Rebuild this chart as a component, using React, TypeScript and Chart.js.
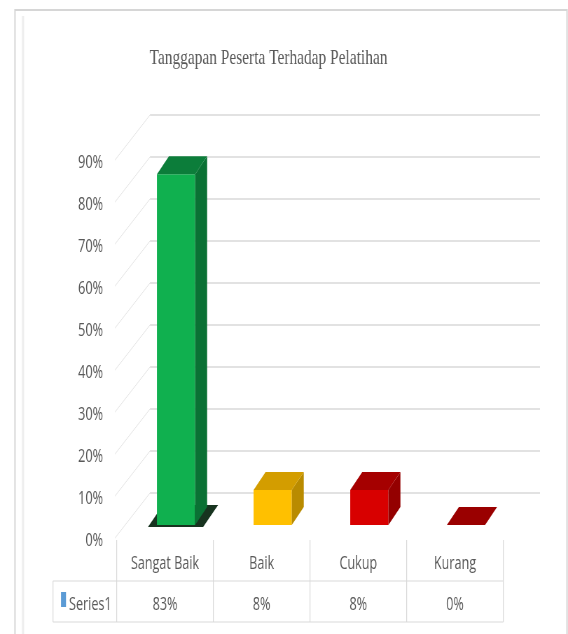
import React, { useEffect, useRef } from 'react';
import { Chart, registerables } from 'chart.js';

Chart.register(...registerables);

// ---- data ----
const chartTitle = 'Tanggapan Peserta Terhadap Pelatihan';
const seriesName = 'Series1';
const categories = ['Sangat Baik', 'Baik', 'Cukup', 'Kurang'];
const values = [0.833, 0.083, 0.083, 0];
const wallTickStep = 0.1;

// ---- styles ----
const frontColors = ['#10b04f', '#ffc000', '#d80000', '#a00000'];
const topColors = ['#0c7d3a', '#d39d00', '#a50000', '#9a0000'];
const sideColors = ['#0a7134', '#b98b00', '#940000', '#880000'];
const baseShadow = ['#17331f', null, null, null];
const textColor = '#595959';
const FONT = '"Open Sans", sans-serif';

// The reference looks horizontally compressed; draw on a wider canvas and squeeze it.
const OUT_W = 568;
const H = 634;
const SQ = 0.7;
const W = Math.round(OUT_W / SQ);
const K = W / OUT_W;
const X = (x: number) => x * K;

const DX = X(12);
const DY = -18;

const decor = {
  id: 'decor',
  beforeDraw(chart: any) {
    const ctx = chart.ctx;
    ctx.save();
    ctx.fillStyle = '#ffffff';
    ctx.fillRect(0, 0, W, H);
    // frame
    ctx.strokeStyle = '#eeeeee';
    ctx.lineWidth = 3;
    ctx.beginPath();
    ctx.moveTo(X(23), H + 10);
    ctx.lineTo(X(23), 16);
    ctx.stroke();
    ctx.strokeStyle = '#d6d6d6';
    ctx.lineWidth = 2;
    ctx.strokeRect(X(15), 10, X(567) - X(15), H + 20);
    // title
    ctx.fillStyle = textColor;
    ctx.font = '22px "Liberation Serif", serif';
    ctx.textAlign = 'center';
    ctx.textBaseline = 'alphabetic';
    ctx.fillText(chartTitle, X(268.5), 64);
    ctx.restore();
  },
  beforeDatasetsDraw(chart: any) {
    const ctx = chart.ctx;
    const wall = chart.scales.yWall;
    const area = chart.chartArea;
    const left = area.left + X(22.3);
    const right = area.right + X(25.7);
    ctx.save();
    wall.ticks.forEach((t: any) => {
      if (t.value < wallTickStep / 2) return;
      const y = wall.getPixelForValue(t.value);
      ctx.strokeStyle = '#e4e4e4';
      ctx.lineWidth = 1;
      ctx.beginPath();
      ctx.moveTo(left, y);
      ctx.lineTo(left - X(35), y + 45);
      ctx.stroke();
      ctx.strokeStyle = '#d9d9d9';
      ctx.lineWidth = 1.6;
      ctx.beginPath();
      ctx.moveTo(left, y);
      ctx.lineTo(right, y);
      ctx.stroke();
    });
    // base shadows
    const meta = chart.getDatasetMeta(0);
    meta.data.forEach((el: any, i: number) => {
      const c = baseShadow[i];
      if (!c) return;
      const { x, base, width } = el.getProps(['x', 'base', 'width'], true);
      const l = x - width / 2;
      const r = x + width / 2;
      ctx.fillStyle = c;
      ctx.beginPath();
      ctx.moveTo(l - X(9), base + 2);
      ctx.lineTo(r + X(8), base + 2);
      ctx.lineTo(r + X(23), base - 20);
      ctx.lineTo(l + X(6), base - 20);
      ctx.closePath();
      ctx.fill();
    });
    ctx.restore();
  },
  afterDatasetsDraw(chart: any) {
    const ctx = chart.ctx;
    const meta = chart.getDatasetMeta(0);
    ctx.save();
    meta.data.forEach((el: any, i: number) => {
      const { x, y, base, width } = el.getProps(['x', 'y', 'base', 'width'], true);
      const l = x - width / 2;
      const r = x + width / 2;
      // side
      if (base - y > 0.5) {
        ctx.fillStyle = sideColors[i];
        ctx.beginPath();
        ctx.moveTo(r, y);
        ctx.lineTo(r + DX, y + DY);
        ctx.lineTo(r + DX, base + DY);
        ctx.lineTo(r, base);
        ctx.closePath();
        ctx.fill();
      }
      // top
      ctx.fillStyle = topColors[i];
      ctx.beginPath();
      ctx.moveTo(l, y);
      ctx.lineTo(l + DX, y + DY);
      ctx.lineTo(r + DX, y + DY);
      ctx.lineTo(r, y);
      ctx.closePath();
      ctx.fill();
    });
    ctx.restore();
  },
  afterDraw(chart: any) {
    const ctx = chart.ctx;
    const xs = chart.scales.x;
    const step = xs.getPixelForValue(1) - xs.getPixelForValue(0);
    const off = -X(11);
    const colLeft = (i: number) => xs.getPixelForValue(0) - step / 2 + off + i * step;
    const rowTop = 540;
    const rowMid = 581;
    const rowBot = 622;
    ctx.save();
    ctx.strokeStyle = '#d9d9d9';
    ctx.lineWidth = 1.2;
    ctx.beginPath();
    for (let i = 0; i <= categories.length; i++) {
      const cx = colLeft(i);
      ctx.moveTo(cx, rowTop);
      ctx.lineTo(cx, rowBot);
    }
    ctx.moveTo(X(53), rowMid);
    ctx.lineTo(X(53), rowBot);
    ctx.moveTo(X(53), rowMid);
    ctx.lineTo(colLeft(categories.length), rowMid);
    ctx.moveTo(X(53), rowBot);
    ctx.lineTo(colLeft(categories.length), rowBot);
    ctx.stroke();

    ctx.fillStyle = textColor;
    ctx.font = `18px ${FONT}`;
    ctx.textBaseline = 'alphabetic';
    ctx.textAlign = 'center';
    values.forEach((v, i) => {
      ctx.fillText(Math.round(v * 100) + '%', colLeft(i) + step / 2, 610);
    });
    // legend key
    ctx.fillStyle = '#5b9bd5';
    ctx.fillRect(X(61), 592, X(5), 15);
    ctx.fillStyle = textColor;
    ctx.textAlign = 'left';
    ctx.fillText(seriesName, X(69), 610);
    ctx.restore();
  },
};

export default function App() {
  const ref = useRef<HTMLCanvasElement | null>(null);
  useEffect(() => {
    if (!ref.current) return;
    const chart = new Chart(ref.current, {
      type: 'bar',
      data: {
        labels: categories,
        datasets: [
          {
            label: seriesName,
            data: values,
            backgroundColor: frontColors,
            borderWidth: 0,
            categoryPercentage: 1,
            barPercentage: 0.395,
            xAxisID: 'x',
            yAxisID: 'y',
          },
        ],
      },
      options: {
        responsive: false,
        animation: false,
        devicePixelRatio: 1,
        events: [],
        layout: { padding: { left: 0, right: W - X(514.3), top: 115, bottom: 0 } },
        plugins: {
          legend: { display: false },
          tooltip: { enabled: false },
          title: { display: false },
        },
        scales: {
          x: {
            position: 'bottom',
            grid: { display: false, drawTicks: false },
            border: { display: false },
            ticks: {
              color: textColor,
              font: { family: FONT, size: 18 },
              padding: 18,
              labelOffset: -X(11),
              maxRotation: 0,
              autoSkip: false,
            },
            afterFit: (s: any) => {
              s.height = 99;
            },
          },
          y: {
            display: false,
            min: -0.02375,
            max: 0.97387,
          },
          yWall: {
            position: 'left',
            min: 0,
            max: 1,
            grid: { display: false, drawTicks: false },
            border: { display: false },
            ticks: {
              stepSize: wallTickStep,
              labelOffset: 6,
              padding: X(24.7),
              color: textColor,
              font: { family: FONT, size: 18 },
              callback: (v: any) => {
                const p = Math.round(Number(v) * 100);
                return p >= 100 ? '' : p + '%';
              },
            },
            afterFit: (s: any) => {
              s.width = X(127.7);
            },
          },
        },
      } as any,
      plugins: [decor],
    });
    return () => chart.destroy();
  }, []);

  return (
    <div style={{ position: 'fixed', left: 0, top: 0, width: OUT_W, height: H, overflow: 'hidden', background: '#fff' }}>
      <div style={{ position: 'absolute', left: 0, top: 0, width: W, height: H, transform: `scaleX(${OUT_W / W})`, transformOrigin: '0 0' }}>
        <canvas ref={ref} width={W} height={H} style={{ display: 'block' }} />
      </div>
    </div>
  );
}
